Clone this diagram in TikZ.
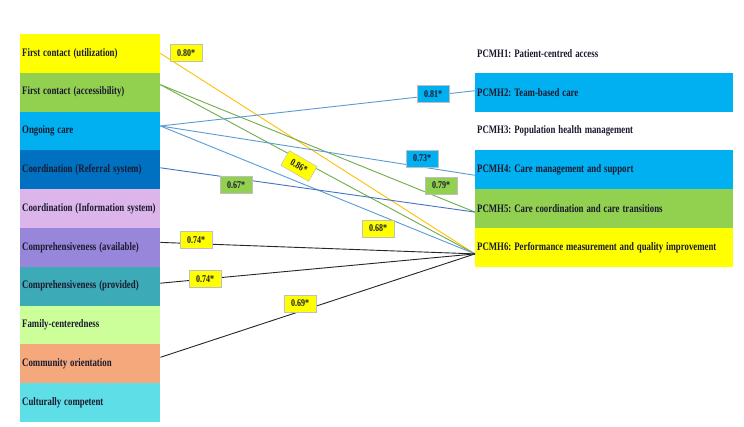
\documentclass[tikz,border=0pt]{standalone}
\usepackage{fontspec}
\usepackage{graphicx}
\setmainfont{Liberation Serif}
\frenchspacing
\newcommand{\tall}[1]{\scalebox{1}[1.3]{#1}}
\definecolor{cYellow}{HTML}{FFFF00}
\definecolor{cGreen}{HTML}{92D050}
\definecolor{cLBlue}{HTML}{00B0F0}
\definecolor{cBlue}{HTML}{0070C0}
\definecolor{cLav}{HTML}{DCB6EA}
\definecolor{cPurple}{HTML}{9886DA}
\definecolor{cTeal}{HTML}{3DAAB8}
\definecolor{cLGreen}{HTML}{CCFF99}
\definecolor{cOrange}{HTML}{F4A87C}
\definecolor{cCyan}{HTML}{5EDEE6}
\definecolor{lOrange}{HTML}{FFC000}
\definecolor{lGreen}{HTML}{70AD47}
\definecolor{lBlue}{HTML}{5B9BD5}
\definecolor{lDBlue}{HTML}{4472C4}
\definecolor{txt}{HTML}{1A1A2E}
\tikzset{
  lbox/.style={anchor=west, minimum height=38.8pt, text width=136pt, inner xsep=2pt,
    inner ysep=0pt, align=left, font=\fontsize{8.8}{10}\selectfont\bfseries, text=txt},
  rbox/.style={anchor=west, minimum height=38.8pt, text width=254pt, inner xsep=2pt,
    inner ysep=0pt, align=left, font=\fontsize{8.8}{10}\selectfont\bfseries, text=txt},
  conn/.style={line width=0.9pt},
  coef/.style={draw=black!25, line width=0.5pt, minimum width=32pt, minimum height=17pt,
    inner sep=1pt, font=\fontsize{8}{9}\selectfont\bfseries, text=txt},
}
\begin{document}
\begin{tikzpicture}[x=1pt,y=-1pt]
\useasboundingbox[fill=white] (0,0) rectangle (744,427);
% left column
\node[lbox, fill=cYellow] (L1) at (20,53.4) {\makebox[136pt][l]{\tall{First contact (utilization)}}};
\node[lbox, fill=cGreen] (L2) at (20,92.2) {\makebox[136pt][l]{\tall{First contact (accessibility)}}};
\node[lbox, fill=cLBlue] (L3) at (20,131.0) {\makebox[136pt][l]{\tall{Ongoing care}}};
\node[lbox, fill=cBlue] (L4) at (20,169.8) {\makebox[136pt][l]{\tall{Coordination (Referral system)}}};
\node[lbox, fill=cLav] (L5) at (20,208.6) {\makebox[136pt][l]{\tall{Coordination (Information system)}}};
\node[lbox, fill=cPurple] (L6) at (20,247.4) {\makebox[136pt][l]{\tall{Comprehensiveness (available)}}};
\node[lbox, fill=cTeal] (L7) at (20,286.2) {\makebox[136pt][l]{\tall{Comprehensiveness (provided)}}};
\node[lbox, fill=cLGreen] (L8) at (20,325.0) {\makebox[136pt][l]{\tall{Family-centeredness}}};
\node[lbox, fill=cOrange] (L9) at (20,363.8) {\makebox[136pt][l]{\tall{Community orientation}}};
\node[lbox, fill=cCyan] (L10) at (20,402.6) {\makebox[136pt][l]{\tall{Culturally competent}}};
% right column
\node[rbox] (R1) at (475,53.4) {\tall{PCMH1: Patient-centred access}};
\node[rbox, fill=cLBlue] (R2) at (475,92.2) {\tall{PCMH2: Team-based care}};
\node[rbox] (R3) at (475,131.0) {\tall{PCMH3: Population health management}};
\node[rbox, fill=cLBlue] (R4) at (475,169.8) {\tall{PCMH4: Care management and support}};
\node[rbox, fill=cGreen] (R5) at (475,208.6) {\tall{PCMH5: Care coordination and care transitions}};
\node[rbox, fill=cYellow] (R6) at (475,247.4) {\tall{PCMH6: Performance measurement and quality improvement}};
% connectors
\draw[conn, lOrange] (L1.east) -- ([yshift=-6.5pt]R6.west);
\draw[conn, lGreen] ([yshift=7.5pt]L2.east) -- ([yshift=-3.5pt]R5.west);
\draw[conn, lGreen] ([yshift=7.5pt]L2.east) -- ([yshift=-6.5pt]R6.west);
\draw[conn, lBlue] ([yshift=5pt]L3.east) -- ([yshift=1.5pt]R2.west);
\draw[conn, lBlue] ([yshift=5pt]L3.east) -- ([yshift=-5.5pt]R4.west);
\draw[conn, lBlue] ([yshift=5pt]L3.east) -- ([yshift=-6.5pt]R6.west);
\draw[conn, lDBlue] ([yshift=2pt]L4.east) -- ([yshift=-3.5pt]R5.west);
\draw[conn, black!85] ([yshift=5pt]L6.east) -- ([yshift=-6.5pt]R6.west);
\draw[conn, black!85] ([yshift=3pt]L7.east) -- ([yshift=-6.5pt]R6.west);
\draw[conn, black!85] ([yshift=6.5pt]L9.east) -- ([yshift=-6.5pt]R6.west);
% coefficients
\node[coef, fill=cYellow] (c1) at (186,53) {\tall{0.80*}};
\node[coef, fill=cLBlue] (c2) at (433,94) {\tall{0.81*}};
\node[coef, fill=cLBlue] (c3) at (422,158.5) {\tall{0.73*}};
\node[coef, fill=cGreen] (c4) at (441,185.5) {\tall{0.79*}};
\node[coef, fill=cGreen] (c5) at (236,185) {\tall{0.67*}};
\node[coef, fill=cYellow, rotate=-30] (c6) at (299,166) {\tall{0.86*}};
\node[coef, fill=cYellow] (c7) at (378,228.5) {\tall{0.68*}};
\node[coef, fill=cYellow] (c8) at (196,240) {\tall{0.74*}};
\node[coef, fill=cYellow] (c9) at (205,279) {\tall{0.74*}};
\node[coef, fill=cYellow] (c10) at (300,303.5) {\tall{0.69*}};
\end{tikzpicture}
\end{document}
